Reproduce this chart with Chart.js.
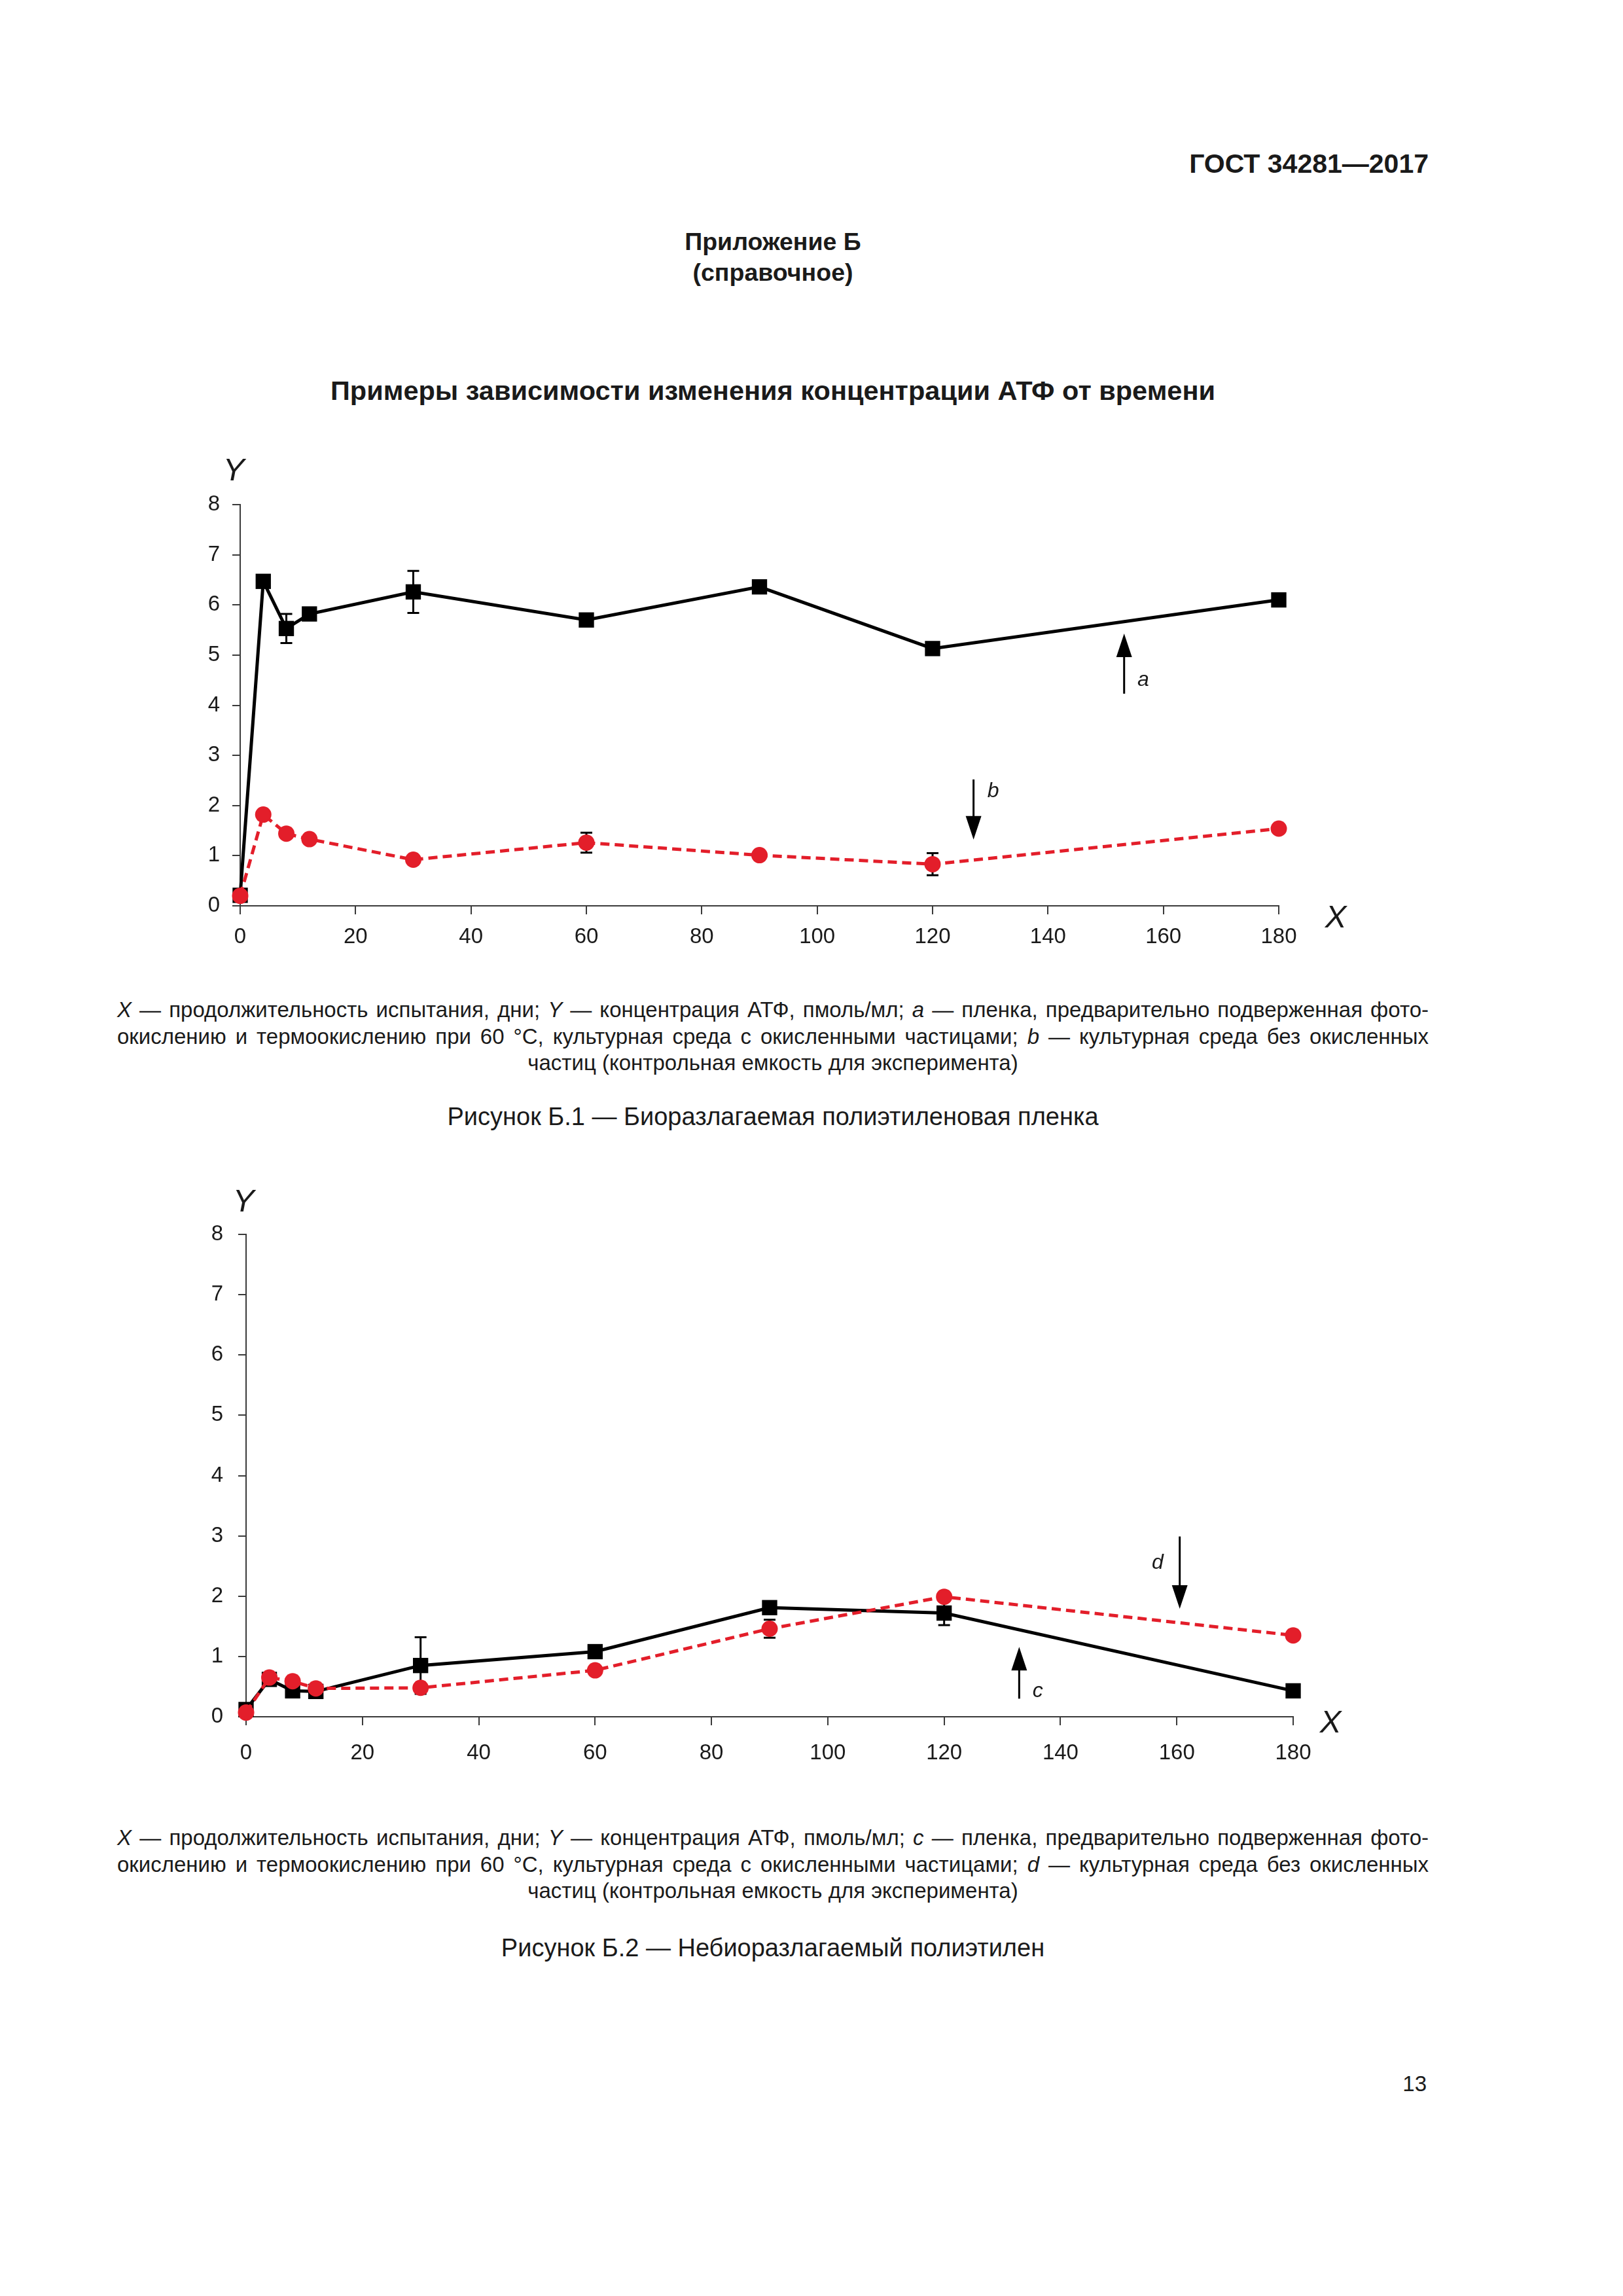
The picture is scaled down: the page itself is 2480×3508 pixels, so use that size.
<!DOCTYPE html>
<html><head><meta charset="utf-8">
<script src="https://cdn.jsdelivr.net/npm/chart.js@4.4.0/dist/chart.umd.min.js"></script>
<style>
html,body{margin:0;padding:0;background:#fff;}
body{width:2480px;height:3508px;position:relative;font-family:"Liberation Sans",Arial,sans-serif;color:#1a1a1a;overflow:hidden;}
.t{position:absolute;white-space:nowrap;}
.b{font-weight:bold;}
.cap{position:absolute;left:179px;width:2004px;font-size:33px;line-height:40.5px;}
.cap div{white-space:nowrap;}
.cap .j{text-align:justify;text-align-last:justify;white-space:normal;}
.cap .c{text-align:center;}
canvas{position:absolute;}
.ax{position:absolute;font-style:italic;font-size:49px;line-height:49px;transform:translate(-50%,-50%);}
</style></head>
<body>
<div class="t b" style="right:297px;top:229px;font-size:41px;line-height:42px;">ГОСТ 34281—2017</div>
<div class="t b" style="left:1181px;transform:translateX(-50%);top:350px;font-size:37.5px;line-height:38px;">Приложение Б</div>
<div class="t b" style="left:1181px;transform:translateX(-50%);top:397px;font-size:37.5px;line-height:38px;">(справочное)</div>
<div class="t b" style="left:1181px;transform:translateX(-50%);top:576px;font-size:41.5px;line-height:42px;">Примеры зависимости изменения концентрации АТФ от времени</div>

<div class="ax" style="left:357px;top:717px;">Y</div>
<div class="ax" style="left:2041px;top:1400px;">X</div>
<canvas id="c1" width="1850" height="780" style="left:250px;top:680px;width:1850px;height:780px;"></canvas>

<div class="cap" style="top:1523px;">
<div class="j"><i>X</i> — продолжительность испытания, дни; <i>Y</i> — концентрация АТФ, пмоль/мл; <i>a</i> — пленка, предварительно подверженная фото-</div>
<div class="j">окислению и термоокислению при 60 °С, культурная среда с окисленными частицами; <i>b</i> — культурная среда без окисленных</div>
<div class="c">частиц (контрольная емкость для эксперимента)</div>
</div>
<div class="t" style="left:1181px;transform:translateX(-50%);top:1686px;font-size:38px;line-height:40px;">Рисунок Б.1 — Биоразлагаемая полиэтиленовая пленка</div>

<div class="ax" style="left:372px;top:1834px;">Y</div>
<div class="ax" style="left:2033px;top:2630px;">X</div>
<canvas id="c2" width="1850" height="930" style="left:250px;top:1790px;width:1850px;height:930px;"></canvas>

<div class="cap" style="top:2788px;">
<div class="j"><i>X</i> — продолжительность испытания, дни; <i>Y</i> — концентрация АТФ, пмоль/мл; <i>c</i> — пленка, предварительно подверженная фото-</div>
<div class="j">окислению и термоокислению при 60 °С, культурная среда с окисленными частицами; <i>d</i> — культурная среда без окисленных</div>
<div class="c">частиц (контрольная емкость для эксперимента)</div>
</div>
<div class="t" style="left:1181px;transform:translateX(-50%);top:2956px;font-size:38px;line-height:40px;">Рисунок Б.2 — Небиоразлагаемый полиэтилен</div>

<div class="t" style="right:300px;top:3166px;font-size:33px;line-height:36px;">13</div>

<script>
// ---- data ----
const days = [0, 4, 8, 12, 30, 60, 90, 120, 180];
const xTickValues = [0, 20, 40, 60, 80, 100, 120, 140, 160, 180];
const yTickValues = [0, 1, 2, 3, 4, 5, 6, 7, 8];

// Figure B.1
const fig1A = [0.21, 6.47, 5.53, 5.82, 6.26, 5.70, 6.36, 5.13, 6.10];
const fig1AErr = [0, 0, 0.29, 0, 0.42, 0, 0, 0, 0];
const fig1B = [0.20, 1.82, 1.44, 1.33, 0.92, 1.26, 1.01, 0.83, 1.54];
const fig1BErr = [0, 0, 0, 0, 0, 0.20, 0, 0.22, 0];
// Figure B.2
const fig2C = [0.12, 0.62, 0.43, 0.42, 0.85, 1.08, 1.81, 1.72, 0.43];
const fig2CErr = [0, 0, 0, 0, 0.47, 0, 0, 0.20, 0];
const fig2D = [0.07, 0.65, 0.59, 0.47, 0.48, 0.77, 1.46, 1.99, 1.35];
const fig2DErr = [0, 0, 0, 0, 0, 0, 0.15, 0, 0];

// arrow annotations (data coordinates)
const fig1Arrows = [
  {x: 153.2, from: 4.23, to: 5.43, label: 'a', lx: 156.5, ly: 4.5},
  {x: 127.1, from: 2.52, to: 1.32, label: 'b', lx: 130.5, ly: 2.28}
];
const fig2Arrows = [
  {x: 160.5, from: 2.99, to: 1.79, label: 'd', lx: 156.7, ly: 2.55},
  {x: 132.9, from: 0.30, to: 1.16, label: 'c', lx: 136.1, ly: 0.42}
];

const RED = '#e31e2a';
const BLACK = '#000000';
const AXIS = '#3a3a3a';

function pts(ys) { return days.map((d, i) => ({x: d, y: ys[i]})); }

const errorBars = {
  id: 'errorBars',
  beforeDatasetsDraw(chart) {
    const ctx = chart.ctx, xs = chart.scales.x, ys = chart.scales.y;
    chart.data.datasets.forEach(ds => {
      if (!ds.errors) return;
      ctx.save();
      ctx.strokeStyle = BLACK;
      ctx.lineWidth = 3;
      ds.data.forEach((p, i) => {
        const e = ds.errors[i];
        if (!e) return;
        const px = xs.getPixelForValue(p.x);
        const top = ys.getPixelForValue(p.y + e);
        const bot = ys.getPixelForValue(p.y - e);
        ctx.beginPath();
        ctx.moveTo(px, top); ctx.lineTo(px, bot);
        ctx.moveTo(px - 9, top); ctx.lineTo(px + 9, top);
        ctx.moveTo(px - 9, bot); ctx.lineTo(px + 9, bot);
        ctx.stroke();
      });
      ctx.restore();
    });
  }
};

const arrows = {
  id: 'arrows',
  afterDatasetsDraw(chart, args, opts) {
    const ctx = chart.ctx, xs = chart.scales.x, ys = chart.scales.y;
    (opts.items || []).forEach(a => {
      const px = xs.getPixelForValue(a.x);
      const y0 = ys.getPixelForValue(a.from);
      const y1 = ys.getPixelForValue(a.to);
      const dir = y1 > y0 ? 1 : -1;
      const headLen = 36, headW = 12;
      ctx.save();
      ctx.strokeStyle = BLACK; ctx.fillStyle = BLACK; ctx.lineWidth = 3;
      ctx.beginPath();
      ctx.moveTo(px, y0); ctx.lineTo(px, y1 - dir * headLen + dir * 2);
      ctx.stroke();
      ctx.beginPath();
      ctx.moveTo(px, y1);
      ctx.lineTo(px - headW, y1 - dir * headLen);
      ctx.lineTo(px + headW, y1 - dir * headLen);
      ctx.closePath(); ctx.fill();
      ctx.font = 'italic 32px "Liberation Sans", Arial, sans-serif';
      ctx.textAlign = 'center'; ctx.textBaseline = 'middle';
      ctx.fillStyle = '#1a1a1a';
      ctx.fillText(a.label, xs.getPixelForValue(a.lx), ys.getPixelForValue(a.ly));
      ctx.restore();
    });
  }
};

function makeChart(id, blackData, blackErr, redData, redErr, arrowItems, geo) {
  new Chart(document.getElementById(id), {
    type: 'line',
    data: {
      datasets: [
        {
          data: pts(redData), errors: redErr, order: 0, clip: false,
          borderColor: RED, backgroundColor: RED, borderWidth: 5,
          borderDash: [14, 8], pointStyle: 'circle', pointRadius: 12.5,
          pointBorderWidth: 0, pointBackgroundColor: RED, tension: 0
        },
        {
          data: pts(blackData), errors: blackErr, order: 1, clip: false,
          borderColor: BLACK, backgroundColor: BLACK, borderWidth: 5,
          pointStyle: 'rect', pointRadius: 16.5, pointBorderWidth: 0,
          pointBackgroundColor: BLACK, tension: 0
        }
      ]
    },
    options: {
      responsive: false, animation: false, devicePixelRatio: 1,
      layout: {padding: {top: geo.top, right: geo.right, left: 0, bottom: 0}},
      plugins: {legend: {display: false}, tooltip: {enabled: false}, arrows: {items: arrowItems}},
      scales: {
        x: {
          type: 'linear', min: 0, max: 180,
          afterBuildTicks: s => { s.ticks = xTickValues.map(v => ({value: v})); },
          afterFit: s => { s.height = geo.xh; },
          border: {display: true, color: AXIS, width: 2},
          grid: {drawOnChartArea: false, drawTicks: true, tickLength: 13, color: AXIS, lineWidth: 2},
          ticks: {padding: geo.xpad, color: '#1a1a1a', font: {family: '"Liberation Sans", Arial, sans-serif', size: geo.fs}, maxRotation: 0, autoSkip: false}
        },
        y: {
          type: 'linear', min: 0, max: 8,
          afterBuildTicks: s => { s.ticks = yTickValues.map(v => ({value: v})); },
          afterFit: s => { s.width = geo.yw; },
          border: {display: true, color: AXIS, width: 2},
          grid: {drawOnChartArea: false, drawTicks: true, tickLength: 12, color: AXIS, lineWidth: 2},
          ticks: {padding: geo.ypad, color: '#1a1a1a', font: {family: '"Liberation Sans", Arial, sans-serif', size: geo.fs}}
        }
      }
    },
    plugins: [errorBars, arrows]
  });
}

makeChart('c1', fig1A, fig1AErr, fig1B, fig1BErr, fig1Arrows,
  {top: 91, right: 146, xh: 76, yw: 117, xpad: 15, ypad: 19, fs: 33});
makeChart('c2', fig2C, fig2CErr, fig2D, fig2DErr, fig2Arrows,
  {top: 96, right: 124, xh: 97, yw: 126, xpad: 23, ypad: 23, fs: 33});
</script>
</body></html>
